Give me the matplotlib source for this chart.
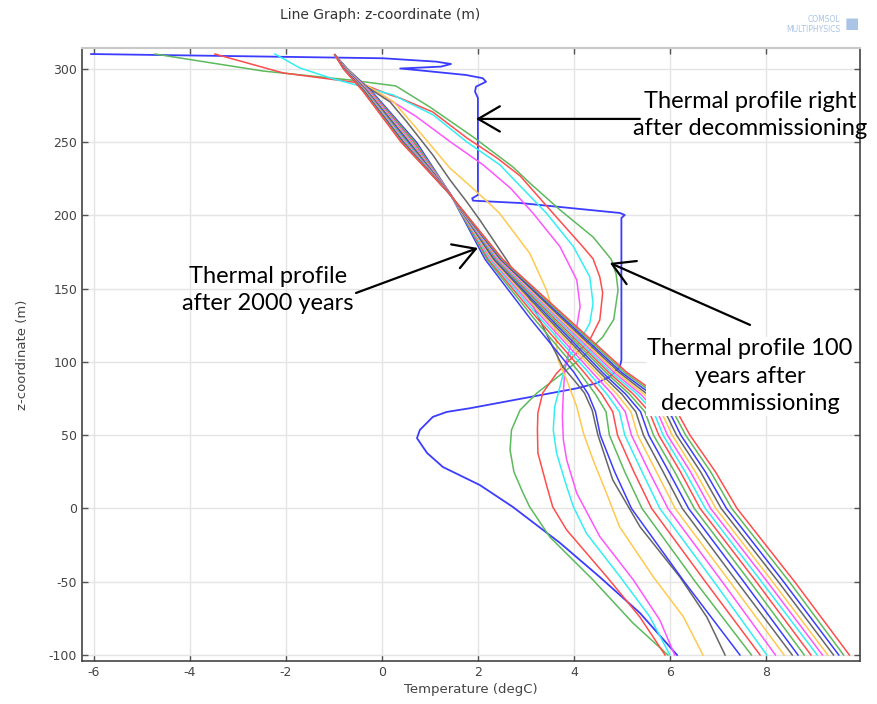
import matplotlib
matplotlib.use("Agg")
import matplotlib.pyplot as plt

plt.rcParams["axes.unicode_minus"] = False

# Temperature profiles T(z) at successive output times

# t = 0 (right after decommissioning)
Z0 = [310.2, 307.3, 305.0, 303.4, 301.6, 300.3, 299.3, 295.9, 293.7, 291.3, 287.9, 284.5,
      280.2, 214.0, 211.7, 210.1, 208.5, 201.7, 200.3, 198.3, 101.4, 96.8, 90.0, 85.5, 82.0,
      68.4, 65.9, 62.5, 53.6, 48.0, 37.9, 28.3, 16.0, 1.0, -23.5, -46.8, -71.3, -100.0]
T0 = [-6.06, 0.02, 1.13, 1.44, 1.23, 0.38, 0.71, 1.75, 2.10, 2.17, 1.96, 1.94,
      2.00, 2.00, 1.88, 1.90, 2.88, 4.96, 5.06, 4.99, 4.99, 4.96, 4.75, 4.47, 4.06,
      1.83, 1.35, 1.06, 0.79, 0.73, 0.94, 1.27, 2.04, 2.73, 3.71, 4.54, 5.375, 6.15]

# 100 years
Z1 = [310.2, 298.6, 292.5, 288.4, 274.0, 253.6, 233.1, 222.2, 203.8, 185.3, 170.0, 160.0,
      149.0, 129.0, 117.0, 103.6, 92.5, 78.8, 67.2, 53.6, 40.0, 25.0, 10.6, 1.0, -19.5,
      -48.8, -78.2, -100.0]
T1 = [-4.73, -2.48, -0.67, 0.29, 1.00, 1.90, 2.73, 3.08, 3.71, 4.40, 4.78, 4.88,
      4.92, 4.83, 4.60, 4.19, 3.77, 3.23, 2.88, 2.70, 2.67, 2.75, 2.94, 3.08, 3.50,
      4.40, 5.23, 5.96]

Z2 = [310.2, 297.3, 290.4, 282.3, 280.2, 270.6, 252.9, 239.2, 227.0, 201.7, 178.5, 170.4,
      158.0, 147.2, 128.7, 115.0, 103.6, 92.3, 78.8, 65.2, 53.6, 37.9, 14.7, 1.0, -14.7,
      -46.8, -74.1, -100.0]
T2 = [-3.48, -2.06, -0.46, 0.17, 0.375, 1.06, 1.77, 2.40, 2.88, 3.56, 4.19, 4.40,
      4.54, 4.60, 4.54, 4.33, 3.98, 3.64, 3.35, 3.25, 3.24, 3.25, 3.44, 3.56, 3.85,
      4.69, 5.375, 5.90]

Z3 = [310.2, 300.7, 293.9, 289.1, 282.3, 268.6, 250.4, 234.5, 224.2, 201.5, 178.7, 158.2,
      140.0, 126.4, 112.8, 101.4, 83.1, 69.5, 53.6, 37.6, 14.9, 1.2, -16.9, -46.5, -73.8,
      -100.0]
T3 = [-2.23, -1.71, -1.08, -0.54, 0.23, 1.07, 1.76, 2.46, 2.76, 3.43, 3.99, 4.33,
      4.40, 4.33, 4.10, 3.85, 3.71, 3.60, 3.57, 3.64, 3.85, 3.99, 4.26, 4.96, 5.58,
      6.00]

Z4 = [309.6, 300.0, 290.0, 284.3, 278.8, 267.4, 250.4, 234.5, 218.6, 201.5, 178.7, 156.0,
      137.8, 124.0, 110.5, 94.5, 78.6, 62.7, 47.0, 33.1, 10.4, -19.2, -48.8, -76.1, -100.0]
T4 = [-0.98, -0.72, -0.40, -0.10, 0.17, 0.72, 1.42, 2.11, 2.68, 3.15, 3.71, 4.06,
      4.13, 4.06, 3.92, 3.81, 3.78, 3.76, 3.78, 3.85, 4.06, 4.54, 5.24, 5.79, 6.10]

Z5 = [309.6, 300.0, 290.0, 277.7, 259.5, 232.2, 224.2, 209.4, 201.5, 174.2, 149.1, 133.2,
      124.0, 101.4, 87.7, 69.5, 51.3, 33.1, 10.4, -12.4, -46.5, -73.8, -100.0]
T5 = [-0.98, -0.72, -0.38, 0.24, 0.72, 1.42, 1.70, 2.20, 2.45, 3.08, 3.43, 3.57,
      3.60, 3.67, 3.85, 4.06, 4.20, 4.40, 4.68, 4.95, 5.65, 6.28, 6.69]

Z6 = [309.6, 300.0, 290.0, 277.5, 263.8, 241.3, 224.2, 209.2, 196.9, 169.6, 147.1, 128.7,
      110.2, 96.6, 87.0, 78.8, 67.2, 50.2, 19.5, -12.6, -46.8, -74.1, -100.0]
T6 = [-0.98, -0.73, -0.42, 0.17, 0.52, 1.06, 1.42, 1.77, 2.04, 2.60, 3.02, 3.29,
      3.56, 3.77, 4.02, 4.22, 4.38, 4.50, 4.81, 5.38, 6.21, 6.77, 7.15]

# later times up to 2000 years, sampled on a common depth grid
Z_LATE = [309.6, 300, 285, 250, 215, 170, 130, 93, 78, 66, 50, 25, 0, -50, -100]
T_LATE = [
    [-0.98, -0.72, -0.22, 0.72, 1.42, 2.15, 3.08, 4.00, 4.30, 4.45, 4.55, 4.85, 5.20, 6.30, 7.46],
    [-0.98, -0.73, -0.24, 0.69, 1.42, 2.19, 3.16, 4.11, 4.45, 4.67, 4.74, 5.06, 5.42, 6.53, 7.70],
    [-0.98, -0.74, -0.25, 0.66, 1.42, 2.22, 3.23, 4.21, 4.58, 4.81, 4.91, 5.25, 5.62, 6.74, 7.88],
    [-0.98, -0.74, -0.27, 0.63, 1.42, 2.25, 3.29, 4.30, 4.69, 4.95, 5.06, 5.42, 5.79, 6.92, 8.02],
    [-0.98, -0.75, -0.28, 0.61, 1.42, 2.28, 3.35, 4.38, 4.80, 5.07, 5.20, 5.57, 5.96, 7.09, 8.20],
    [-0.98, -0.75, -0.30, 0.59, 1.41, 2.30, 3.40, 4.46, 4.90, 5.19, 5.33, 5.72, 6.11, 7.25, 8.38],
    [-0.98, -0.76, -0.31, 0.57, 1.41, 2.33, 3.45, 4.53, 5.00, 5.29, 5.45, 5.86, 6.26, 7.40, 8.55],
    [-0.98, -0.76, -0.32, 0.55, 1.41, 2.35, 3.50, 4.59, 5.08, 5.39, 5.56, 5.98, 6.39, 7.54, 8.67],
    [-0.98, -0.77, -0.33, 0.53, 1.41, 2.37, 3.54, 4.66, 5.16, 5.48, 5.66, 6.10, 6.51, 7.67, 8.80],
    [-0.98, -0.77, -0.34, 0.51, 1.41, 2.39, 3.59, 4.72, 5.24, 5.57, 5.77, 6.22, 6.63, 7.80, 8.94],
    [-0.98, -0.78, -0.35, 0.50, 1.40, 2.41, 3.63, 4.77, 5.32, 5.66, 5.86, 6.32, 6.74, 7.91, 9.07],
    [-0.98, -0.78, -0.36, 0.48, 1.40, 2.43, 3.67, 4.83, 5.39, 5.74, 5.95, 6.43, 6.85, 8.03, 9.18],
    [-0.98, -0.78, -0.36, 0.46, 1.40, 2.45, 3.70, 4.88, 5.46, 5.82, 6.05, 6.53, 6.96, 8.14, 9.29],
    [-0.98, -0.79, -0.37, 0.45, 1.40, 2.47, 3.74, 4.94, 5.53, 5.90, 6.14, 6.64, 7.07, 8.26, 9.41],
    [-0.98, -0.79, -0.38, 0.43, 1.40, 2.48, 3.78, 4.99, 5.61, 5.99, 6.23, 6.74, 7.18, 8.37, 9.52],
    [-0.98, -0.80, -0.39, 0.42, 1.40, 2.50, 3.82, 5.05, 5.68, 6.07, 6.33, 6.85, 7.29, 8.49, 9.62],
    [-0.98, -0.80, -0.40, 0.40, 1.40, 2.52, 3.86, 5.10, 5.75, 6.15, 6.42, 6.95, 7.40, 8.60, 9.74],
]

X_TICKS = [-6, -4, -2, 0, 2, 4, 6, 8]
Y_TICKS = [-100, -50, 0, 50, 100, 150, 200, 250, 300]

# colour cycle: blue, green, red, cyan, magenta, yellow, grey
COLORS = ["#3c3cff", "#5cba5c", "#ff4c4c", "#33eef5", "#ff55ff", "#ffc94f", "#666666"]

fig = plt.figure(figsize=(8.77, 7.04), dpi=100)
ax = fig.add_axes([0.0935, 0.0611, 0.887, 0.8707])

early = [(Z0, T0), (Z1, T1), (Z2, T2), (Z3, T3), (Z4, T4), (Z5, T5), (Z6, T6)]
for i, (z, t) in enumerate(early):
    ax.plot(t, z, color=COLORS[i % 7], lw=1.3 if i == 0 else 1.1, solid_joinstyle="round")
for j, t in enumerate(T_LATE):
    ax.plot(t, Z_LATE, color=COLORS[(j + 7) % 7], lw=1.1, solid_joinstyle="round")

ax.set_xlim(-6.25, 9.96)
ax.set_ylim(-104.1, 314.3)
ax.set_xticks(X_TICKS)
ax.set_yticks(Y_TICKS)
ax.grid(True, color="#e4e4e4", lw=1.0)
ax.set_axisbelow(True)
ax.tick_params(direction="in", length=4, width=1, colors="#555555", labelsize=9,
               top=True, right=True, labelcolor="#444444")
for side in ["left", "bottom", "right"]:
    ax.spines[side].set_color("#444444")
    ax.spines[side].set_linewidth(1.2)
ax.spines["top"].set_color("#c8c8c8")
ax.spines["top"].set_linewidth(1.5)

ax.set_xlabel("Temperature (degC)", fontsize=9.5, color="#444444", labelpad=3)
ax.set_ylabel("z-coordinate (m)", fontsize=9.5, color="#444444", labelpad=14)
fig.text(0.433, 0.978, "Line Graph: z-coordinate (m)", ha="center", va="center",
         fontsize=10, color="#333333")
fig.text(0.958, 0.973, "COMSOL", ha="right", va="center", fontsize=5.5, color="#a9c4e4")
fig.text(0.958, 0.958, "MULTIPHYSICS", ha="right", va="center", fontsize=5.5, color="#a9c4e4")
fig.text(0.971, 0.966, "\u25a0", ha="center", va="center", fontsize=11, color="#a9c4e4")

arrow = dict(arrowstyle="->,head_length=0.6,head_width=0.35", color="black", lw=1.6,
             mutation_scale=26, shrinkA=0, shrinkB=0)
note = dict(fontsize=17, family=["Lato", "DejaVu Sans"], ha="center", va="center",
            linespacing=1.4, color="black")
box = dict(boxstyle="square,pad=0.05", fc="white", ec="none")

ax.annotate("", xy=(1.96, 265.9), xytext=(5.375, 265.9), arrowprops=arrow)
ax.text(7.67, 268.6, "Thermal profile right\nafter decommissioning", **note)

ax.annotate("", xy=(2.0, 177.8), xytext=(-0.54, 147.1), arrowprops=arrow)
ax.text(-2.375, 149.1, "Thermal profile\nafter 2000 years", **note)

ax.annotate("", xy=(4.75, 167.6), xytext=(7.67, 125.3), arrowprops=arrow)
ax.text(7.67, 90.4, "Thermal profile 100\nyears after\ndecommissioning", bbox=box, **note)

fig.savefig("out.png", dpi=100)
